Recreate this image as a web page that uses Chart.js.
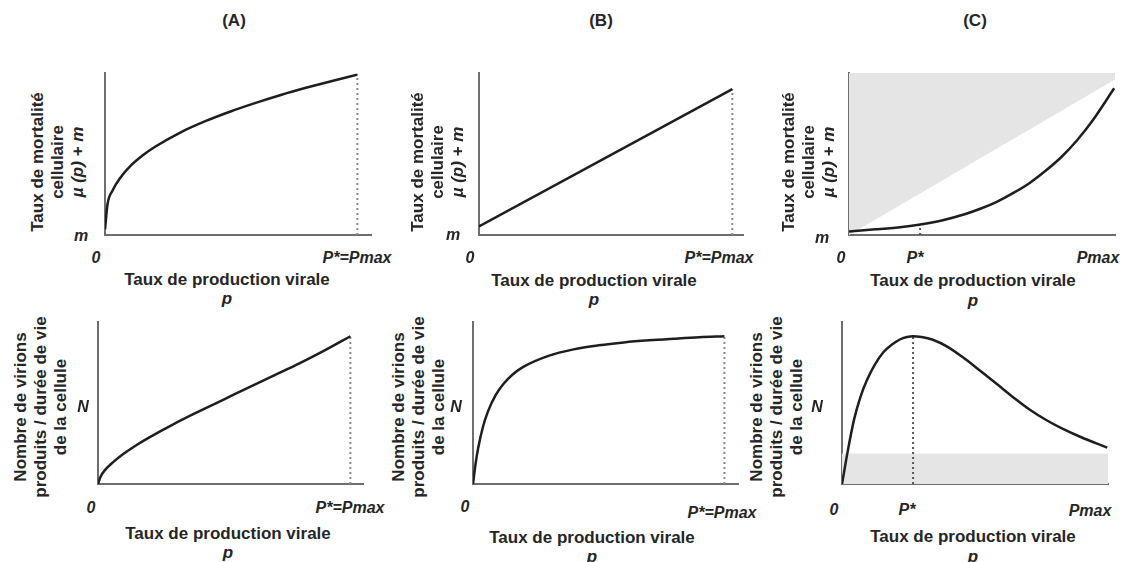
<!DOCTYPE html>
<html>
<head>
<meta charset="utf-8">
<script src="https://cdn.jsdelivr.net/npm/chart.js@4.4.1/dist/chart.umd.min.js"></script>
<style>
  body { margin: 0; background: #fff; }
  #page { position: relative; width: 1127px; height: 562px; overflow: hidden;
          font-family: "Liberation Sans", Arial, sans-serif; font-weight: bold; color: #262626; }
  canvas { position: absolute; }
  .t { position: absolute; white-space: nowrap; transform: translate(-50%, -50%); font-size: 16px; line-height: 1; }
  .i { font-style: italic; }
  .ttl { font-size: 17px; }
  .hd { font-size: 17px; }
  .rot { position: absolute; white-space: nowrap; text-align: center; font-size: 17px; line-height: 20px;
         transform: translate(-50%, -50%) rotate(-90deg); }
</style>
</head>
<body>
<div id="page">
  <canvas id="topA"></canvas>
  <canvas id="topB"></canvas>
  <canvas id="topC"></canvas>
  <canvas id="botA"></canvas>
  <canvas id="botB"></canvas>
  <canvas id="botC"></canvas>

  <!-- column headers -->
  <div class="t hd" style="left:234px;top:20px">(A)</div>
  <div class="t hd" style="left:601px;top:20px">(B)</div>
  <div class="t hd" style="left:975px;top:20px">(C)</div>

  <!-- top row: y titles -->
  <div class="rot" style="left:58px;top:162px">Taux de mortalité<br>cellulaire<br><span class="i">µ (p) + m</span></div>
  <div class="rot" style="left:438px;top:162px">Taux de mortalité<br>cellulaire<br><span class="i">µ (p) + m</span></div>
  <div class="rot" style="left:809px;top:162px">Taux de mortalité<br>cellulaire<br><span class="i">µ (p) + m</span></div>
  <div class="t i" style="left:81px;top:236px">m</div>
  <div class="t i" style="left:453px;top:235px">m</div>
  <div class="t i" style="left:822px;top:238px">m</div>

  <!-- top row: x labels -->
  <div class="t i" style="left:96px;top:258px">0</div>
  <div class="t i" style="left:357px;top:258px">P*=Pmax</div>
  <div class="t ttl" style="left:227px;top:279px">Taux de production virale</div>
  <div class="t i ttl" style="left:227px;top:298px">p</div>

  <div class="t i" style="left:470px;top:258px">0</div>
  <div class="t i" style="left:719px;top:258px">P*=Pmax</div>
  <div class="t ttl" style="left:594px;top:280px">Taux de production virale</div>
  <div class="t i ttl" style="left:594px;top:299px">p</div>

  <div class="t i" style="left:841px;top:258px">0</div>
  <div class="t i" style="left:915px;top:258px">P*</div>
  <div class="t i" style="left:1098px;top:258px">Pmax</div>
  <div class="t ttl" style="left:973px;top:280px">Taux de production virale</div>
  <div class="t i ttl" style="left:973px;top:300px">p</div>

  <!-- bottom row: y titles -->
  <div class="rot" style="left:41px;top:407px">Nombre de virions<br>produits / durée de vie<br>de la cellule</div>
  <div class="t i" style="left:83px;top:407px">N</div>
  <div class="rot" style="left:419px;top:407px">Nombre de virions<br>produits / durée de vie<br>de la cellule</div>
  <div class="t i" style="left:456px;top:407px">N</div>
  <div class="rot" style="left:777px;top:407px">Nombre de virions<br>produits / durée de vie<br>de la cellule</div>
  <div class="t i" style="left:817px;top:407px">N</div>

  <!-- bottom row: x labels -->
  <div class="t i" style="left:91px;top:508px">0</div>
  <div class="t i" style="left:350px;top:508px">P*=Pmax</div>
  <div class="t ttl" style="left:228px;top:533px">Taux de production virale</div>
  <div class="t i ttl" style="left:228px;top:552px">p</div>

  <div class="t i" style="left:465px;top:507px">0</div>
  <div class="t i" style="left:722px;top:513px">P*=Pmax</div>
  <div class="t ttl" style="left:592px;top:537px">Taux de production virale</div>
  <div class="t i ttl" style="left:592px;top:556px">p</div>

  <div class="t i" style="left:834px;top:510px">0</div>
  <div class="t i" style="left:907px;top:510px">P*</div>
  <div class="t i" style="left:1090px;top:511px">Pmax</div>
  <div class="t ttl" style="left:973px;top:536px">Taux de production virale</div>
  <div class="t i ttl" style="left:973px;top:556px">p</div>
</div>

<script>
// p is the viral production rate, normalised so that Pmax = 1
var pStar = 0.268;

// (A) top: cell mortality rate, concave
var pTopA = [0, 0.01, 0.03, 0.06, 0.1, 0.15, 0.2, 0.3, 0.4, 0.5, 0.6, 0.7, 0.8, 0.9, 1.0];
var mortTopA = [0.035, 0.19, 0.275, 0.352, 0.425, 0.492, 0.546, 0.634, 0.704, 0.764, 0.817, 0.866, 0.91, 0.951, 0.99];

// (B) top: linear
var pTopB = [0, 1.0];
var mortTopB = [0.053, 0.9];

// (C) top: convex, with shaded zone above the diagonal
var pTopC = [0, 0.1, 0.2, 0.269, 0.35, 0.436, 0.5, 0.557, 0.62, 0.68, 0.74, 0.8, 0.86, 0.92, 1.0];
var mortTopC = [0.022, 0.035, 0.05, 0.065, 0.09, 0.128, 0.165, 0.205, 0.26, 0.32, 0.395, 0.48, 0.585, 0.71, 0.906];
var pDiagC = [0, 1.003];
var diagTopC = [0, 0.96];

// (A) bottom: virions per lifetime
var pBotA = [0, 0.01, 0.03, 0.06, 0.1, 0.15, 0.2, 0.3, 0.4, 0.5, 0.6, 0.7, 0.8, 0.9, 1.0];
var nBotA = [0, 0.045, 0.09, 0.135, 0.185, 0.238, 0.285, 0.37, 0.448, 0.523, 0.598, 0.672, 0.746, 0.826, 0.912];

// (B) bottom: saturating
var pBotB = [0, 0.01, 0.02, 0.04, 0.06, 0.09, 0.12, 0.16, 0.2, 0.3, 0.4, 0.5, 0.6, 0.7, 0.8, 0.9, 1.0];
var nBotB = [0, 0.122, 0.217, 0.355, 0.45, 0.549, 0.616, 0.679, 0.723, 0.791, 0.831, 0.856, 0.874, 0.887, 0.897, 0.906, 0.912];

// (C) bottom: optimum at P*
var pBotC = [0, 0.022, 0.046, 0.07, 0.095, 0.125, 0.156, 0.19, 0.218, 0.245, 0.267, 0.3, 0.34, 0.4, 0.462, 0.52, 0.584, 0.65, 0.707, 0.77, 0.829, 0.9, 1.0];
var nBotC = [0, 0.206, 0.402, 0.54, 0.645, 0.74, 0.813, 0.862, 0.892, 0.907, 0.912, 0.907, 0.892, 0.845, 0.774, 0.7, 0.617, 0.53, 0.46, 0.395, 0.343, 0.29, 0.225];
var pShadeC = [0, 1.003];
var shadeBotC = [0.188, 0.188];

function pts(xs, ys) {
  return xs.map(function (x, i) { return { x: x, y: ys[i] }; });
}

function curve(xs, ys) {
  return {
    data: pts(xs, ys), borderColor: '#1e1e1e', borderWidth: 2.5,
    pointRadius: 0, cubicInterpolationMode: 'monotone', fill: false, order: 0
  };
}

function dotted(x, top, dark) {
  return {
    data: [{ x: x, y: 0 }, { x: x, y: top }],
    borderColor: dark ? '#555' : '#8a8a8a', borderWidth: 2, borderDash: [2, 3],
    pointRadius: 0, fill: false, order: 1
  };
}

function shade(xs, ys, target) {
  return {
    data: pts(xs, ys), borderWidth: 0, borderColor: 'rgba(0,0,0,0)',
    backgroundColor: '#e5e5e5', pointRadius: 0, fill: target, order: 5
  };
}

var PAD = 4;

// left/right/top/bottom are the axis lines on the page, xMax is where the x axis stops
function makePanel(id, left, right, top, bottom, xMax, datasets) {
  var cv = document.getElementById(id);
  var w = right - left + 2 * PAD, h = bottom - top + 2 * PAD;
  cv.width = w; cv.height = h;
  cv.style.left = (left - PAD) + 'px';
  cv.style.top = (top - PAD) + 'px';
  cv.style.width = w + 'px'; cv.style.height = h + 'px';
  var axis = function (max) {
    return {
      type: 'linear', min: 0, max: max,
      grid: { display: false },
      ticks: { display: false },
      border: { display: true, color: '#6e6e6e', width: 2 }
    };
  };
  return new Chart(cv.getContext('2d'), {
    type: 'line',
    data: { datasets: datasets },
    options: {
      responsive: false,
      animation: false,
      events: [],
      layout: { padding: PAD, autoPadding: false },
      plugins: { legend: { display: false }, tooltip: { enabled: false } },
      scales: { x: axis(xMax), y: axis(1) }
    }
  });
}

makePanel('topA', 97, 371, 73, 243, 1.054, [
  curve(pTopA, mortTopA), dotted(1, mortTopA[mortTopA.length - 1])
]);
makePanel('topB', 471, 743, 73, 243, 1.042, [
  curve(pTopB, mortTopB), dotted(1, mortTopB[1])
]);
makePanel('topC', 841, 1115, 73, 243, 1.003, [
  curve(pTopC, mortTopC), dotted(pStar, 0.065, true), shade(pDiagC, diagTopC, 'end')
]);
makePanel('botA', 90, 363, 322, 492, 1.05, [
  curve(pBotA, nBotA), dotted(1, nBotA[nBotA.length - 1])
]);
makePanel('botB', 465, 738, 322, 492, 1.054, [
  curve(pBotB, nBotB), dotted(1, nBotB[nBotB.length - 1])
]);
makePanel('botC', 834, 1108, 322, 492, 1.003, [
  curve(pBotC, nBotC), dotted(pStar, 0.912, true), shade(pShadeC, shadeBotC, 'origin')
]);
</script>
</body>
</html>
